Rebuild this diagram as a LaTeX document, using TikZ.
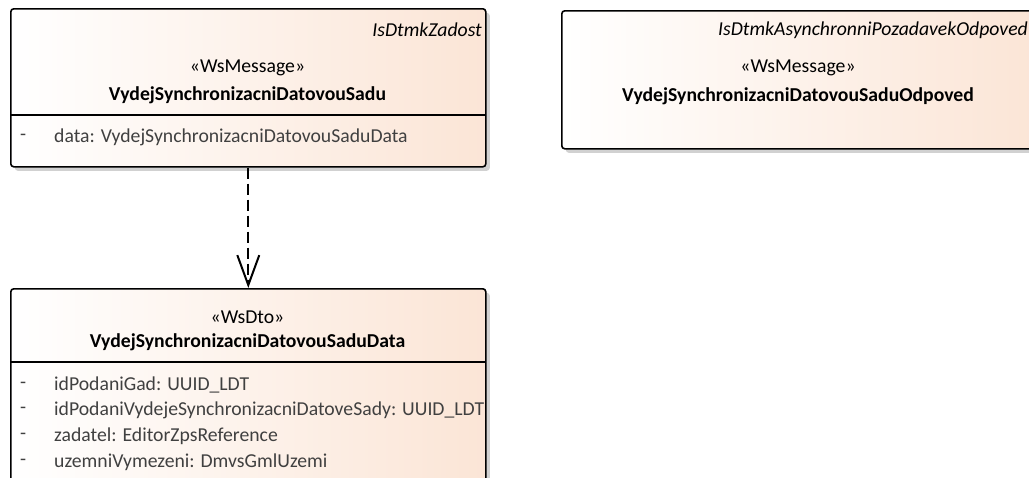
\documentclass[tikz,border=0pt]{standalone}
\usepackage{fontspec}
\setmainfont{Carlito}
\usetikzlibrary{arrows.meta,shadows}
\definecolor{umlpeach}{RGB}{251,229,214}
\definecolor{attrgray}{RGB}{64,64,64}
\begin{document}
\begin{tikzpicture}[
        x=1pt, y=-1pt,
        umlclass/.style={draw, line width=1.6pt, rounded corners=3pt, inner sep=0pt,
            anchor=north west, left color=white, right color=umlpeach,
            drop shadow={shadow xshift=4pt, shadow yshift=-4pt, fill=black!18, opacity=1}},
        txt/.style={inner sep=0pt, font=\fontsize{19.7}{23}\selectfont},
        tag/.style={txt, font=\fontsize{19.7}{23}\selectfont\itshape, anchor=east},
        cname/.style={txt, font=\fontsize{19.7}{23}\selectfont\bfseries},
        attr/.style={txt, text=attrgray, anchor=west},
        sep/.style={line width=1.6pt},
        dep/.style={line width=2pt, dash pattern=on 11pt off 5pt,
            -{Straight Barb[length=30pt, width=22pt]}}
    ]
    \path[use as bounding box, clip] (0,0) rectangle (1029,477);

    % class boxes
    \node[umlclass, minimum width=475pt, minimum height=158pt] (zadost) at (10,8) {};
    \node[umlclass, minimum width=474pt, minimum height=138pt] (odpoved) at (561,10) {};
    \node[umlclass, minimum width=475pt, minimum height=215pt] (data) at (10,288) {};

    % IsDtmkZadost
    \node[tag] (zadostTag) at (482,30) {IsDtmkZadost};
    \node[txt] (zadostStereo) at (247.5,68) {«WsMessage»};
    \node[cname] (zadostName) at (247.5,95) {VydejSynchronizacniDatovouSadu};
    \draw[sep] (10,115) -- (485,115);
    \node[attr] (zadostVis) at (20,137) {-};
    \node[attr] (zadostAttr) at (54,137) {data: VydejSynchronizacniDatovouSaduData};

    % IsDtmkAsynchronniPozadavekOdpoved
    \node[tag] (odpovedTag) at (1028,30) {IsDtmkAsynchronniPozadavekOdpoved};
    \node[txt] (odpovedStereo) at (798,68) {«WsMessage»};
    \node[cname] (odpovedName) at (798,96) {VydejSynchronizacniDatovouSaduOdpoved};

    % data class
    \node[txt] (dataStereo) at (247.5,317) {«WsDto»};
    \node[cname] (dataName) at (247.5,342) {VydejSynchronizacniDatovouSaduData};
    \draw[sep] (10,362) -- (485,362);
    \foreach \attr [count=\i] in {idPodaniGad: UUID\_LDT,
            idPodaniVydejeSynchronizacniDatoveSady: UUID\_LDT,
            zadatel: EditorZpsReference,
            uzemniVymezeni: DmvsGmlUzemi} {
        \pgfmathsetmacro{\y}{385+(\i-1)*25.7}
        \node[attr] (dataVis\i) at (20,\y) {-};
        \node[attr] (dataAttr\i) at (54,\y) {\attr};
    }

    % dependency
    \draw[dep] (zadost.south) -- (data.north);
\end{tikzpicture}
\end{document}
